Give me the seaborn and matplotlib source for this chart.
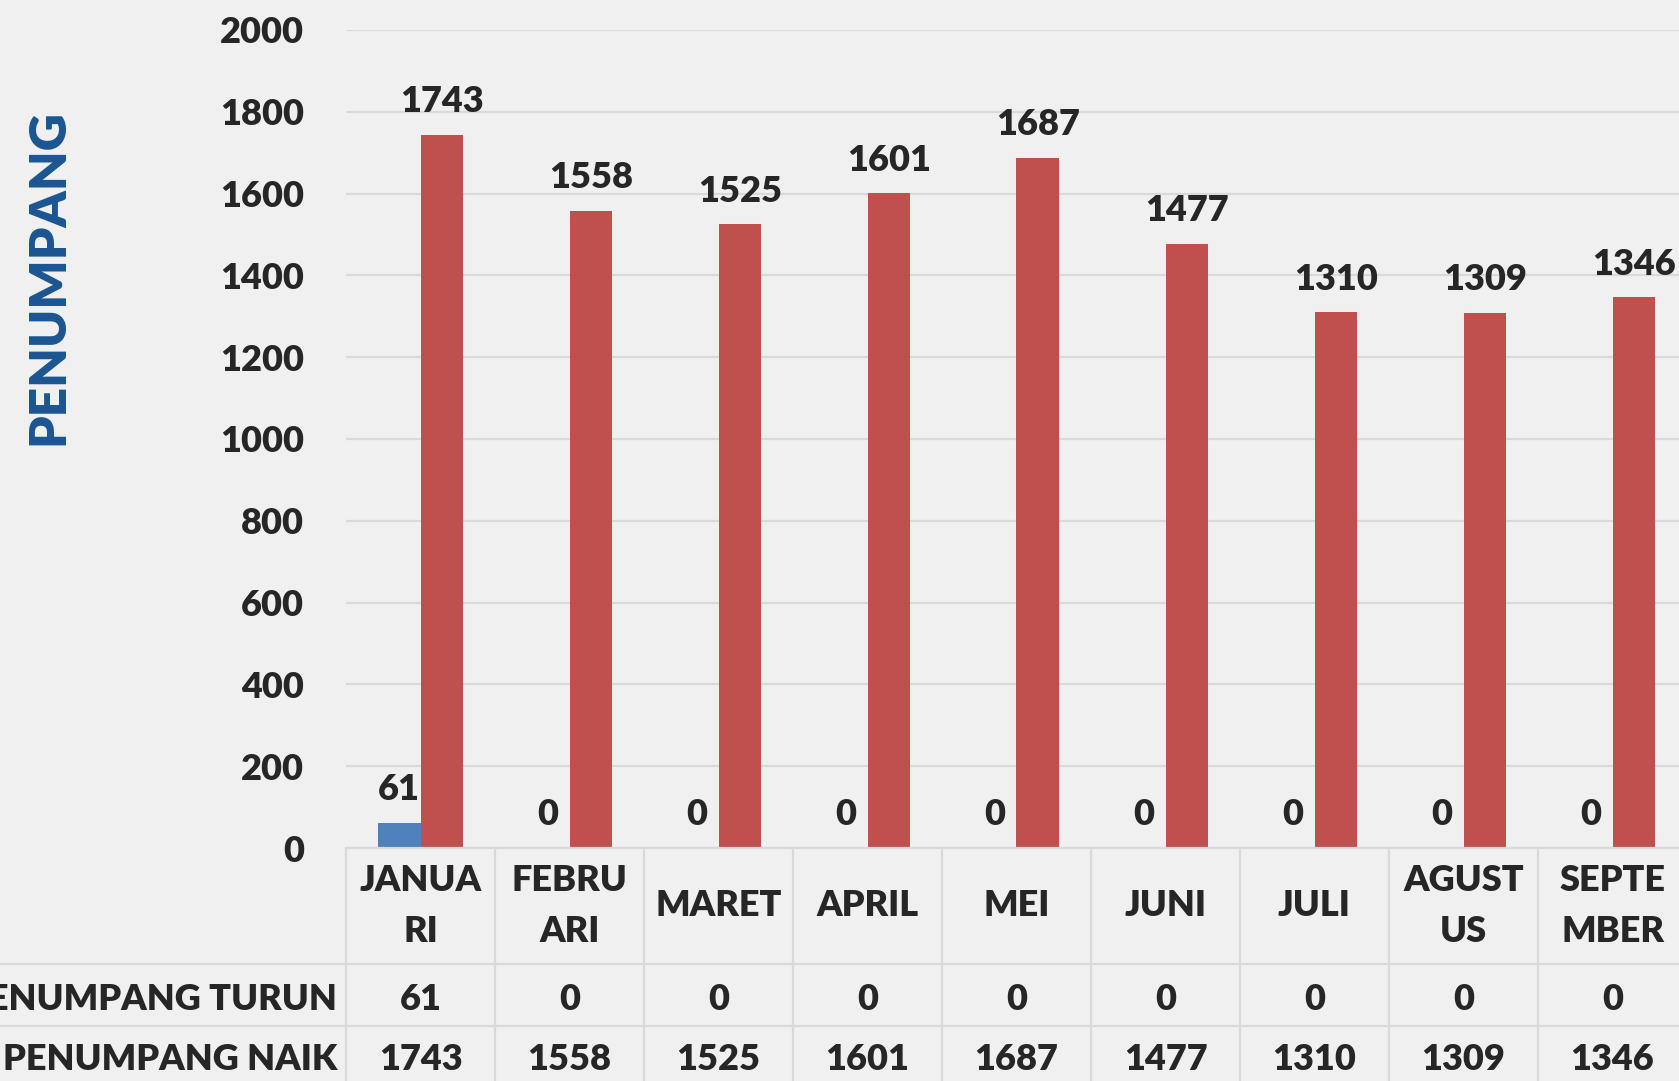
import pandas as pd
import matplotlib.pyplot as plt
import seaborn as sns
from matplotlib.lines import Line2D

# data
months = ['JANUARI', 'FEBRUARI', 'MARET', 'APRIL', 'MEI', 'JUNI', 'JULI', 'AGUSTUS', 'SEPTEMBER']
month_labels = ['JANUA\nRI', 'FEBRU\nARI', 'MARET', 'APRIL', 'MEI', 'JUNI', 'JULI', 'AGUST\nUS', 'SEPTE\nMBER']
turun = [61, 0, 0, 0, 0, 0, 0, 0, 0]
naik = [1743, 1558, 1525, 1601, 1687, 1477, 1310, 1309, 1346]
series = ['PENUMPANG TURUN', 'PENUMPANG NAIK']
colors = ['#4f81bd', '#c0504d']
yticks = [0, 200, 400, 600, 800, 1000, 1200, 1400, 1600, 1800, 2000]

df = pd.DataFrame({
    'bulan': months * 2,
    'seri': [series[0]] * len(months) + [series[1]] * len(months),
    'jumlah': turun + naik,
})

bg = '#f0f0f0'
grid = '#d9d9d9'
wt = 'heavy'
sns.set_style('white')
plt.rcParams['font.family'] = ['Lato', 'DejaVu Sans']
plt.rcParams['font.weight'] = wt

W, H = 1679, 1081
fig = plt.figure(figsize=(W / 100, H / 100), dpi=100, facecolor=bg)
# plot area runs a little past the right edge, as in the cropped original
ax = fig.add_axes([346 / W, 1 - 848 / H, 1341 / W, 818 / H])
ax.set_facecolor(bg)

sns.barplot(data=df, x='bulan', y='jumlah', hue='seri', order=months, hue_order=series,
            palette=colors, saturation=1, width=0.577, linewidth=0, legend=False, ax=ax)

ax.set_xlim(-0.5, len(months) - 0.5)
ax.set_ylim(0, 2000)
ax.set_yticks(yticks)
ax.tick_params(axis='y', length=0, pad=30, labelsize=26)
ax.tick_params(axis='x', length=0, labelbottom=False)
for t in ax.get_yticklabels():
    t.set_fontweight(wt)
ax.set_xlabel('')
ax.set_ylabel('')
ax.yaxis.grid(True, color=grid, lw=1.6)
ax.set_axisbelow(True)
for s in ['top', 'right', 'left']:
    ax.spines[s].set_visible(False)
ax.spines['bottom'].set_color(grid)
ax.spines['bottom'].set_linewidth(1.6)

for c in ax.containers:
    ax.bar_label(c, padding=12, fontsize=26, fontweight=wt)

fig.text(48 / W, 1 - 277 / H, 'PENUMPANG', rotation=90, fontsize=37, color='#1b5592',
         ha='center', va='center', fontweight=wt)

# data table under the plot
def ypix(p):
    return (848 - p) / 818

tr = ax.get_xaxis_transform()
for i, lab in enumerate(month_labels):
    ax.text(i, ypix(906), lab, transform=tr, ha='center', va='center', fontsize=26,
            linespacing=1.65, clip_on=False, fontweight=wt)
    ax.text(i, ypix(999), str(turun[i]), transform=tr, ha='center', va='center',
            fontsize=26, clip_on=False, fontweight=wt)
    ax.text(i, ypix(1059), str(naik[i]), transform=tr, ha='center', va='center',
            fontsize=26, clip_on=False, fontweight=wt)

fig.text(337 / W, 1 - 999 / H, series[0], ha='right', va='center', fontsize=26, fontweight=wt)
fig.text(337 / W, 1 - 1059 / H, series[1], ha='right', va='center', fontsize=26, fontweight=wt)

for i in range(len(months) + 1):
    ax.plot([i - 0.5, i - 0.5], [0, ypix(1100)], transform=tr, color=grid, lw=1.6, clip_on=False)
for p in [964, 1026]:
    fig.add_artist(Line2D([0, 1], [1 - p / H, 1 - p / H], color=grid, lw=1.6))

fig.savefig('out.png', dpi=100, facecolor=bg)
